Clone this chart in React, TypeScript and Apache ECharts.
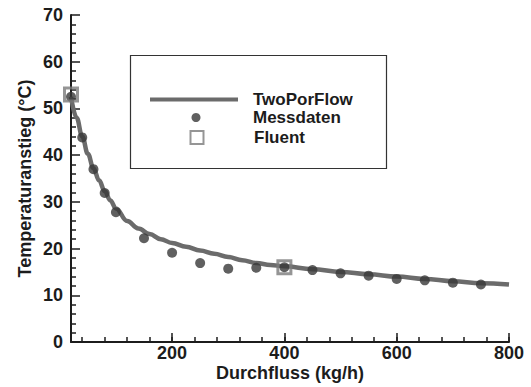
import React, { useEffect, useRef } from "react";
import * as echarts from "echarts";

// TwoPorFlow simulation curve
const curveX = [20, 30, 40, 50, 60, 70, 80, 90, 100, 120, 140, 160, 180, 200, 225, 250, 275, 300, 325, 350, 375, 400, 450, 500, 550, 600, 650, 700, 750, 800];
const curveY = [52.5, 48.0, 44.0, 40.3, 37.2, 34.6, 32.3, 30.3, 28.6, 25.9, 24.3, 23.1, 22.0, 21.2, 20.4, 19.6, 18.9, 18.2, 17.5, 16.9, 16.5, 16.2, 15.6, 15.0, 14.5, 14.0, 13.5, 13.0, 12.6, 12.3];

// Messdaten (measurements)
const messX = [20, 40, 60, 80, 100, 150, 200, 250, 300, 350, 400, 450, 500, 550, 600, 650, 700, 750];
const messY = [52.5, 43.8, 37.0, 31.9, 27.8, 22.2, 19.1, 16.9, 15.7, 15.9, 16.0, 15.4, 14.7, 14.2, 13.5, 13.2, 12.7, 12.3];

// Fluent
const fluentX = [20, 400];
const fluentY = [53.0, 16.0];

// axis ticks / labels
const xLabels = [200, 400, 600, 800];
const xMinorTicks = [40, 80, 120, 160, 200, 240, 280, 320, 360, 400, 440, 480, 520, 560, 600, 640, 680, 720, 760, 800];
const yLabels = [0, 10, 20, 30, 40, 50, 60, 70];

const FONT = "'Liberation Sans', Arial, Helvetica, sans-serif";
const INK = "#1c1c1c";
const CURVE = "#6b6b6b";

export default function App() {
  const ref = useRef<HTMLDivElement>(null);

  useEffect(() => {
    if (!ref.current) return;
    const chart = echarts.init(ref.current, undefined, { renderer: "svg" });

    const zip = (xs: number[], ys: number[]) => xs.map((x, i) => [x, ys[i]]);

    const legendText = (pad: number) => ({
      fontFamily: FONT,
      fontWeight: "bold" as const,
      fontSize: 17,
      color: INK,
      padding: [0, 0, 0, pad],
    });

    chart.setOption({
      animation: false,
      backgroundColor: "#ffffff",
      grid: {
        left: 71,
        right: 22,
        top: 15,
        bottom: 45,
        containLabel: false,
        outerBoundsMode: "none",
      },
      legend: [
        {
          data: [{ name: "TwoPorFlow", icon: "rect", itemStyle: { color: CURVE } }],
          left: 150,
          top: 91,
          padding: 0,
          itemWidth: 88,
          itemHeight: 4,
          symbolKeepAspect: false,
          textStyle: legendText(10),
          selectedMode: false,
        },
        {
          data: ["Messdaten"],
          left: 191.5,
          top: 109,
          padding: 0,
          itemWidth: 9,
          itemHeight: 18,
          textStyle: legendText(47.5),
          selectedMode: false,
        },
        {
          data: ["Fluent"],
          left: 189.5,
          top: 129,
          padding: 0,
          itemWidth: 13,
          itemHeight: 13,
          textStyle: legendText(45.5),
          selectedMode: false,
        },
      ],
      graphic: [
        {
          type: "rect",
          shape: { x: 130.5, y: 55.5, width: 256, height: 113 },
          style: { fill: "none", stroke: "#333", lineWidth: 1.2 },
          z: 1,
        },
      ],
      xAxis: [
        {
          type: "value",
          min: 20,
          max: 800,
          axisLine: { show: true, lineStyle: { color: INK, width: 2 } },
          axisTick: {
            show: true,
            inside: true,
            length: 5,
            customValues: xMinorTicks,
            lineStyle: { color: INK, width: 1.5 },
          },
          axisLabel: {
            customValues: xLabels,
            fontFamily: FONT,
            fontWeight: "bold",
            fontSize: 18,
            lineHeight: 16,
            color: INK,
            margin: 3,
          },
          splitLine: { show: false },
          name: "Durchfluss (kg/h)",
          nameLocation: "middle",
          nameGap: 22,
          nameMoveOverlap: false,
          nameTextStyle: { fontFamily: FONT, fontWeight: "bold", fontSize: 18, lineHeight: 18, color: INK },
        },
        {
          type: "value",
          min: 20,
          max: 800,
          position: "bottom",
          axisLine: { show: false },
          axisTick: {
            show: true,
            inside: true,
            length: 9,
            customValues: xLabels,
            lineStyle: { color: INK, width: 1.5 },
          },
          axisLabel: { show: false },
          splitLine: { show: false },
        },
      ],
      yAxis: {
        type: "value",
        min: 0,
        max: 70,
        interval: 10,
        axisLine: { show: true, lineStyle: { color: INK, width: 2 } },
        axisTick: { show: true, inside: true, length: 9, lineStyle: { color: INK, width: 1.5 } },
        minorTick: { show: true, splitNumber: 5, length: 5, lineStyle: { color: INK, width: 1.5 } },
        axisLabel: {
          customValues: yLabels,
          fontFamily: FONT,
          fontWeight: "bold",
          fontSize: 18,
          color: INK,
          margin: 8,
        },
        splitLine: { show: false },
        name: "Temperaturanstieg (°C)",
        nameLocation: "middle",
        nameGap: 37,
        nameMoveOverlap: false,
        nameTextStyle: { fontFamily: FONT, fontWeight: "bold", fontSize: 18, color: INK },
      },
      series: [
        {
          name: "TwoPorFlow",
          type: "line",
          data: zip(curveX, curveY),
          smooth: 0.4,
          smoothMonotone: "x",
          symbol: "none",
          lineStyle: { color: CURVE, width: 4.5 },
          itemStyle: { color: CURVE },
          z: 2,
        },
        {
          name: "Messdaten",
          type: "scatter",
          data: zip(messX, messY),
          symbol: "circle",
          symbolSize: 10,
          itemStyle: { color: "#383838" },
          z: 3,
        },
        {
          name: "Fluent",
          type: "scatter",
          data: zip(fluentX, fluentY),
          symbol: "rect",
          symbolSize: 13,
          itemStyle: { color: "rgba(0,0,0,0)", borderColor: "#7a7a7a", borderWidth: 3 },
          z: 4,
        },
      ],
    });

    return () => chart.dispose();
  }, []);

  return (
    <div
      ref={ref}
      style={{ position: "fixed", left: 0, top: 0, width: 531, height: 387, background: "#fff" }}
    />
  );
}
